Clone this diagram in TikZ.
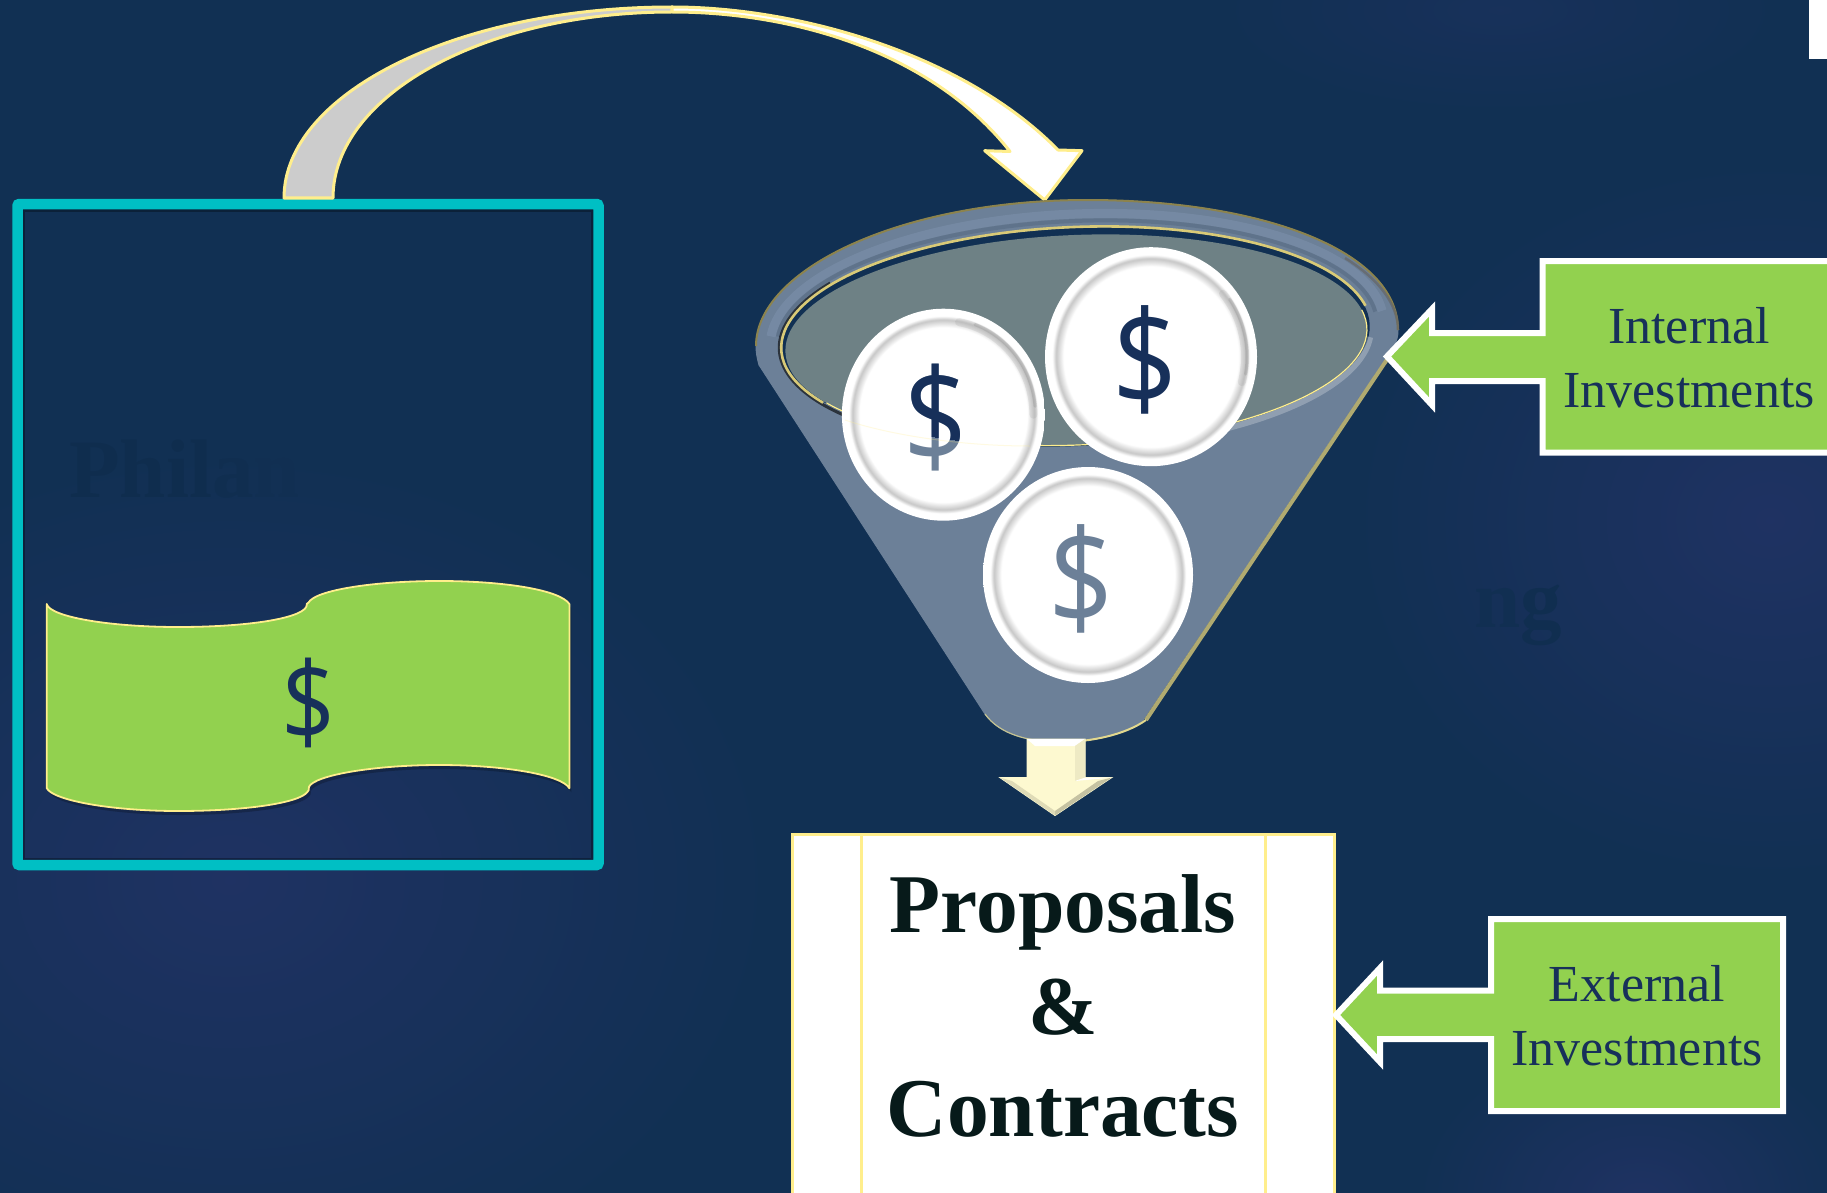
\documentclass[tikz,border=0pt]{standalone}
\usepackage{fontspec}
\setmainfont{Liberation Serif}
\newfontfamily\dollarfont{Open Sans}
\usetikzlibrary{fadings}
\definecolor{bgnavy}{HTML}{113053}
\definecolor{glow}{HTML}{223366}
\definecolor{teal}{HTML}{00BFC4}
\definecolor{leaf}{HTML}{92D14F}
\definecolor{butter}{HTML}{FFEE8C}
\definecolor{slate}{HTML}{6C8098}
\definecolor{slatedark}{HTML}{566A82}
\definecolor{slatelight}{HTML}{7A8EA8}
\definecolor{opening}{HTML}{6E8185}
\definecolor{olive}{HTML}{B0AA70}
\definecolor{inknavy}{HTML}{17305A}
\definecolor{inkblack}{HTML}{071A1A}
\definecolor{cream}{HTML}{FDF9D0}
\definecolor{ghost}{HTML}{0F2D4E}
\pgfdeclareradialshading{coinshade}{\pgfpoint{0bp}{0bp}}{%
  color(0bp)=(white); color(20.6bp)=(white); color(22.4bp)=(black!22); color(23.3bp)=(white); color(25bp)=(white); color(50bp)=(white)}
\tikzfading[name=softspot,inner color=transparent!15,outer color=transparent!100]
\def\bannerpath{(46.7,604) .. controls (50,617) and (110,627) .. (178,627)
  .. controls (245,627) and (300,619) .. (306.4,606.7)
  .. controls (306.4,604) and (307,603) .. (308.4,602.7)
  .. controls (315,590) and (375,581) .. (439,581)
  .. controls (505,581) and (560,590) .. (569.4,604)
  -- (569.4,788.3)
  .. controls (562,775) and (505,765) .. (439,765)
  .. controls (375,765) and (315,775) .. (309,786.7)
  .. controls (309,790) and (308.5,791) .. (307.6,791.7)
  .. controls (300,803) and (245,811) .. (178,811)
  .. controls (110,811) and (52,800) .. (46.7,788)
  -- cycle}
\tikzset{
  glowspot/.style={fill=glow,path fading=softspot,fit fading=true},
  callout/.style={fill=leaf,draw=white,line width=6pt,miter limit=10},
  dollar/.style={font=\dollarfont\fontsize{#1}{#1}\selectfont,inner sep=0pt,xscale=.86,transform shape},
  lbl/.style={text=inknavy,font=\fontsize{52}{64}\selectfont,align=center,inner sep=0pt},
  ghosttext/.style={font=\bfseries\fontsize{83}{90}\selectfont,anchor=base west,inner sep=0pt},
  coin/.style={shading=coinshade},
  coinedge/.style={black!45,line width=3pt,opacity=.3,line cap=round},
  coinhalo/.style={black!45,line width=8pt,opacity=.16,line cap=round},
}
\begin{document}
\begin{tikzpicture}[x=1pt,y=-1pt]
\useasboundingbox (0,0) rectangle (1827,1193);
\clip (0,0) rectangle (1827,1193);
\fill[bgnavy] (0,0) rectangle (1827,1193);
% background glows
\fill[glowspot] (230,880) ellipse [x radius=560,y radius=440];
\fill[glowspot] (1770,520) ellipse [x radius=430,y radius=370];
\fill[glowspot] (1640,1200) ellipse [x radius=230,y radius=170];
\fill[glowspot,opacity=.5] (1500,10) ellipse [x radius=300,y radius=110];
% ghost words
\node[ghosttext] (ghostleft) at (69,497) {\textcolor{ghost}{Phil}\textcolor{ghost!70!bgnavy}{a}\textcolor{ghost!25!bgnavy}{n}};
\node[ghosttext] (ghostright) at (1474,627) {\textcolor{ghost!20!bgnavy}{n}\textcolor{ghost!70!bgnavy}{g}};
% source box
\draw[black,opacity=.3,line width=6pt] (22,209) rectangle (594,861);
\draw[teal,line width=10.5pt,rounded corners=2pt] (17.5,204) rectangle (598.5,865);
% banner
\fill[black,opacity=.22,shift={(2,4)}] \bannerpath;
\path[fill=leaf,draw=butter,line width=1.8pt,line join=round] \bannerpath;
\node[dollar=110,text=inknavy] (billdollar) at (308.4,703) {\$};
% curved arrow
\path[fill=black!20,draw=butter,line width=3pt,line join=round]
  (284,198) .. controls (284,93) and (458,7) .. (672,7)
  -- (672,12) .. controls (485,12) and (333,95) .. (333,198) -- cycle;
\path[fill=white,draw=butter,line width=3pt,line join=round]
  (672,7) .. controls (800,7) and (965,55) .. (1058,150)
  -- (1082,150.7) -- (1044.7,200) -- (984.7,150.7) -- (1010,151.5)
  .. controls (930,50) and (790,12) .. (672,12) -- cycle;
% funnel body
\path[fill=slate,draw=slate,line width=1pt]
  (756,346) .. controls (756,270) and (900,200) .. (1087,200)
  .. controls (1260,200) and (1398,250) .. (1398,330)
  .. controls (1398,342) and (1393,348) .. (1386,357)
  -- (1143,720) .. controls (1125,735) and (1090,742) .. (1061,742)
  .. controls (1030,742) and (1000,735) .. (985,714)
  -- (759,365) .. controls (757,358) and (756,352) .. (756,346) -- cycle;
% funnel bevels
\begin{scope}[rotate around={2.4:(1077,334)}]
  \draw[slatelight,line width=9pt,opacity=.7] (1077,334) ++(185:307 and 120) arc [start angle=185,end angle=355,x radius=307,y radius=120];
  \draw[slatedark,line width=4pt,opacity=.55] (1077,334) ++(185:300 and 113) arc [start angle=185,end angle=355,x radius=300,y radius=113];
\end{scope}
\draw[black!45!butter,line width=2pt]
  (756,346) .. controls (756,270) and (900,200) .. (1087,200)
  .. controls (1260,200) and (1398,250) .. (1398,330);
\draw[black!60,line width=2.5pt,opacity=.7] (1345,258) .. controls (1380,280) and (1398,305) .. (1398,330);
\draw[olive,line width=4pt] (1388,358) -- (1146,720);
\draw[butter!80!slate,line width=2pt] (1146,720) .. controls (1125,735) and (1090,742) .. (1061,742);
\draw[butter!60!slate,line width=1.2pt] (1061,742) .. controls (1030,742) and (1000,735) .. (985,714);
% funnel opening
\begin{scope}[rotate around={2.4:(1076,337)}]
  \fill[bgnavy] (1076,337) ellipse [x radius=294,y radius=109];
  \draw[black,line width=3pt,opacity=.6] (1076,337) ++(120:297 and 112) arc [start angle=120,end angle=215,x radius=297,y radius=112];
  \draw[butter!85!black,line width=2.6pt] (1076,337) ++(150:295 and 110) arc [start angle=150,end angle=350,x radius=295,y radius=110];
  \fill[opening] (1076,340) ellipse [x radius=291,y radius=105];
  \draw[white,line width=6pt,opacity=.25] (1076,340) ++(5:295 and 109) arc [start angle=5,end angle=75,x radius=295,y radius=109];
  \draw[butter,line width=1.2pt] (1076,340) ++(-10:291 and 105) arc [start angle=-10,end angle=150,x radius=291,y radius=105];
\end{scope}
% coins
\path[coin] (1151,356.7) ellipse [x radius=106,y radius=109.5];
\path[coin] (943.4,414.7) ellipse [x radius=101.5,y radius=106];
\path[coin] (1088,575) ellipse [x radius=105,y radius=108];
\draw[coinhalo] (943.4,414.7) ++(-80:90 and 94) arc [start angle=-80,end angle=0,x radius=90,y radius=94];
\draw[coinedge] (943.4,414.7) ++(-70:92 and 96) arc [start angle=-70,end angle=-5,x radius=92,y radius=96];
\draw[coinhalo] (1151,356.7) ++(-40:94 and 98) arc [start angle=-40,end angle=15,x radius=94,y radius=98];
\draw[coinedge] (1151,356.7) ++(-35:96 and 100) arc [start angle=-35,end angle=10,x radius=96,y radius=100];
% coin dollars
\node[dollar=131,text=slate] (coinonelow) at (936,418) {\$};
\begin{scope}
  \clip[rotate around={2.4:(1076,340)}] (1076,340) ellipse [x radius=291,y radius=105];
  \node[dollar=131,text=inknavy] (coinonehigh) at (936,418) {\$};
\end{scope}
\node[dollar=133,text=inknavy] (cointwo) at (1145.5,360) {\$};
\node[dollar=133,text=slate] (cointhree) at (1081,579) {\$};
\draw[butter,line width=1pt,opacity=.25] (845,420) .. controls (890,435) and (960,446) .. (1030,446);
% down arrow
\path[fill=cream,draw=cream,line width=1pt,line join=miter]
  (1027,739) -- (1085,739) -- (1085,777.6) -- (1111.6,777.6) -- (1055,815.5) -- (1000,777.6) -- (1027,777.6) -- cycle;
\fill[white] (1027,739) -- (1085,739) -- (1075,746) -- (1035,746) -- cycle;
\fill[black!6!cream] (1075,746) -- (1085,739) -- (1085,777.6) -- (1075,781) -- cycle;
\fill[white] (1085,777.6) -- (1111.6,777.6) -- (1075,781) -- cycle;
\fill[black!22!cream] (1111.6,777.6) -- (1055,815.5) -- (1055,811) -- (1098,781) -- cycle;
\fill[black!12!cream] (1000,777.6) -- (1055,815.5) -- (1055,811) -- (1012,781) -- cycle;
% proposals box
\path[fill=white,draw=butter,line width=3pt] (792,1215) -- (792,834) -- (1334,834) -- (1334,1215);
\draw[butter,line width=3pt] (861,834) -- (861,1215);
\draw[butter,line width=3pt] (1265.6,834) -- (1265.6,1215);
\node[text=inkblack,font=\bfseries\fontsize{83.5}{102}\selectfont,align=center,inner sep=0pt] (proposals) at (1063,1006) {Proposals\\\&\\Contracts};
% internal callout
\path[callout] (1850,261) -- (1542.5,261) -- (1542.5,333) -- (1432,333) -- (1432,309) -- (1387,356.5)
  -- (1432,405) -- (1432,381) -- (1542.5,381) -- (1542.5,452.5) -- (1850,452.5) -- cycle;
\node[lbl] (internal) at (1689,358) {Internal\\Investments};
% external callout
\path[callout] (1491,919) -- (1783,919) -- (1783,1111) -- (1491,1111) -- (1491,1039) -- (1380,1039)
  -- (1380,1062) -- (1336,1015) -- (1380,968) -- (1380,990.5) -- (1491,990.5) -- cycle;
\node[lbl] (external) at (1637,1016) {External\\Investments};
% corner tab
\fill[white] (1809,0) rectangle (1827,59);
\end{tikzpicture}
\end{document}
